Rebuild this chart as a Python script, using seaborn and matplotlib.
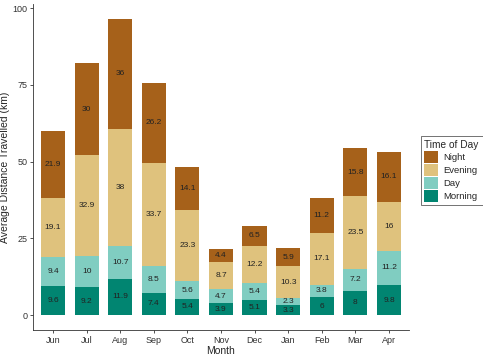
import numpy as np
import pandas as pd
import matplotlib
matplotlib.use("Agg")
import matplotlib.pyplot as plt
import seaborn as sns
from matplotlib.patches import Patch

MONTHS  = ["Jun", "Jul", "Aug", "Sep", "Oct", "Nov", "Dec", "Jan", "Feb", "Mar", "Apr"]
MORNING = [9.6, 9.2, 11.9, 7.4, 5.4, 3.9, 5.1, 3.3, 6, 8, 9.8]
DAY     = [9.4, 10, 10.7, 8.5, 5.6, 4.7, 5.4, 2.3, 3.8, 7.2, 11.2]
EVENING = [19.1, 32.9, 38, 33.7, 23.3, 8.7, 12.2, 10.3, 17.1, 23.5, 16]
NIGHT   = [21.9, 30, 36, 26.2, 14.1, 4.4, 6.5, 5.9, 11.2, 15.8, 16.1]
PERIODS = ["Morning", "Day", "Evening", "Night"]
COLORS  = {"Morning": "#018571", "Day": "#80cdc1", "Evening": "#dfc27d", "Night": "#a6611a"}

sns.set_style("white")
plt.rcParams["font.family"] = ["Liberation Sans", "DejaVu Sans"]

df = pd.DataFrame({"Month": MONTHS, "Morning": MORNING, "Day": DAY,
                   "Evening": EVENING, "Night": NIGHT})
cum = df[PERIODS].cumsum(axis=1)

fig = plt.figure(figsize=(4.83, 3.58), dpi=100)
ax = fig.add_axes([0.068, 0.078, 0.779, 0.911])

# stacked bars: draw cumulative totals from the top layer down
for p in PERIODS[::-1]:
    sns.barplot(x=df["Month"], y=cum[p], color=COLORS[p], width=0.72,
                saturation=1, ax=ax, edgecolor="none", linewidth=0)

# segment labels
for i in range(len(MONTHS)):
    base = 0
    for p in PERIODS:
        v = df.loc[i, p]
        ax.text(i, base + v / 2, f"{v:g}", ha="center", va="center",
                fontsize=6, color="#222222")
        base += v

ax.set_xlim(-0.6, len(MONTHS) - 0.4)
ax.set_ylim(-4.83, 101.4)
ax.set_yticks([0, 25, 50, 75, 100])
ax.set_xlabel("Month", fontsize=7.5, labelpad=1)
ax.set_ylabel("Average Distance Travelled (km)", fontsize=7.5, labelpad=2)
ax.tick_params(axis="both", labelsize=6.5, colors="#333333", length=2.5, width=0.6,
               direction="out", pad=1.5, bottom=True, left=True)
for s in ["top", "right"]:
    ax.spines[s].set_visible(False)
for s in ["left", "bottom"]:
    ax.spines[s].set_color("#333333")
    ax.spines[s].set_linewidth(0.6)

handles = [Patch(facecolor=COLORS[p], edgecolor="none", label=p) for p in PERIODS[::-1]]
leg = fig.legend(handles=handles, title="Time of Day", loc="upper left",
                 bbox_to_anchor=(0.861, 0.633), fontsize=6.8, title_fontsize=7.3,
                 frameon=True, fancybox=False, handlelength=1.4, handleheight=1.5,
                 handletextpad=0.6, labelspacing=0.15, borderpad=0.4,
                 alignment="left")
leg.get_frame().set_edgecolor("#333333")
leg.get_frame().set_linewidth(0.6)

fig.savefig("out.png", dpi=100)
